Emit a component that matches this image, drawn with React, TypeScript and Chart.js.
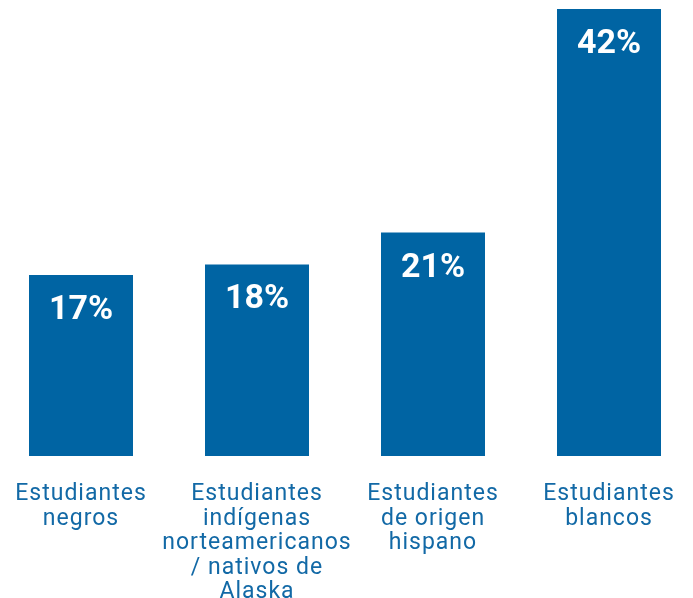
import React, { useEffect, useRef } from "react";
import { Chart, registerables } from "chart.js";

Chart.register(...registerables);

const categories: string[][] = [
  ["Estudiantes", "negros"],
  ["Estudiantes", "indígenas", "norteamericanos", "/ nativos de", "Alaska"],
  ["Estudiantes", "de origen", "hispano"],
  ["Estudiantes", "blancos"],
];
const values: number[] = [17, 18, 21, 42];
const valueLabels: string[] = ["17%", "18%", "21%", "42%"];

const BAR_COLOR = "#0064a3";
const LABEL_COLOR = "#1269a6";

export default function App() {
  const ref = useRef<HTMLCanvasElement | null>(null);

  useEffect(() => {
    if (!ref.current) return;
    const valuePlugin = {
      id: "valueLabels",
      afterDatasetsDraw(chart: any) {
        const ctx = chart.ctx;
        const meta = chart.getDatasetMeta(0);
        ctx.save();
        (ctx as any).letterSpacing = "0px";
        ctx.fillStyle = "#ffffff";
        ctx.font = "bold 34px Roboto";
        ctx.textAlign = "center";
        ctx.textBaseline = "alphabetic";
        meta.data.forEach((bar: any, i: number) => {
          ctx.fillText(valueLabels[i], bar.x, bar.y + 44);
        });
        ctx.restore();
      },
    };
    const spacingPlugin = {
      id: "spacing",
      beforeDraw(chart: any) {
        (chart.ctx as any).letterSpacing = "1px";
      },
    };
    const chart = new Chart(ref.current, {
      type: "bar",
      data: {
        labels: categories,
        datasets: [
          {
            data: values,
            backgroundColor: BAR_COLOR,
            barPercentage: 104 / 176,
            categoryPercentage: 1,
          },
        ],
      },
      options: {
        animation: false,
        responsive: true,
        maintainAspectRatio: false,
        layout: { padding: { top: 9, left: 0, right: 0, bottom: 0 } },
        plugins: { legend: { display: false }, tooltip: { enabled: false } },
        scales: {
          y: { display: false, min: 0, max: 42 },
          x: {
            grid: { display: false, drawTicks: false },
            border: { display: false },
            ticks: {
              color: LABEL_COLOR,
              font: { family: "Roboto", size: 23, lineHeight: "24.5px" },
              padding: 26,
              autoSkip: false,
              maxRotation: 0,
              minRotation: 0,
            },
            afterFit(scale: any) {
              scale.height = 142;
            },
          },
        },
      },
      plugins: [valuePlugin, spacingPlugin],
    });
    return () => chart.destroy();
  }, []);

  return (
    <div
      style={{
        position: "fixed",
        left: 0,
        top: 0,
        width: 693,
        height: 598,
        overflow: "hidden",
        background: "#fff",
      }}
    >
      <div style={{ position: "absolute", left: -7, top: 0, width: 704, height: 598 }}>
        <canvas ref={ref} />
      </div>
    </div>
  );
}
